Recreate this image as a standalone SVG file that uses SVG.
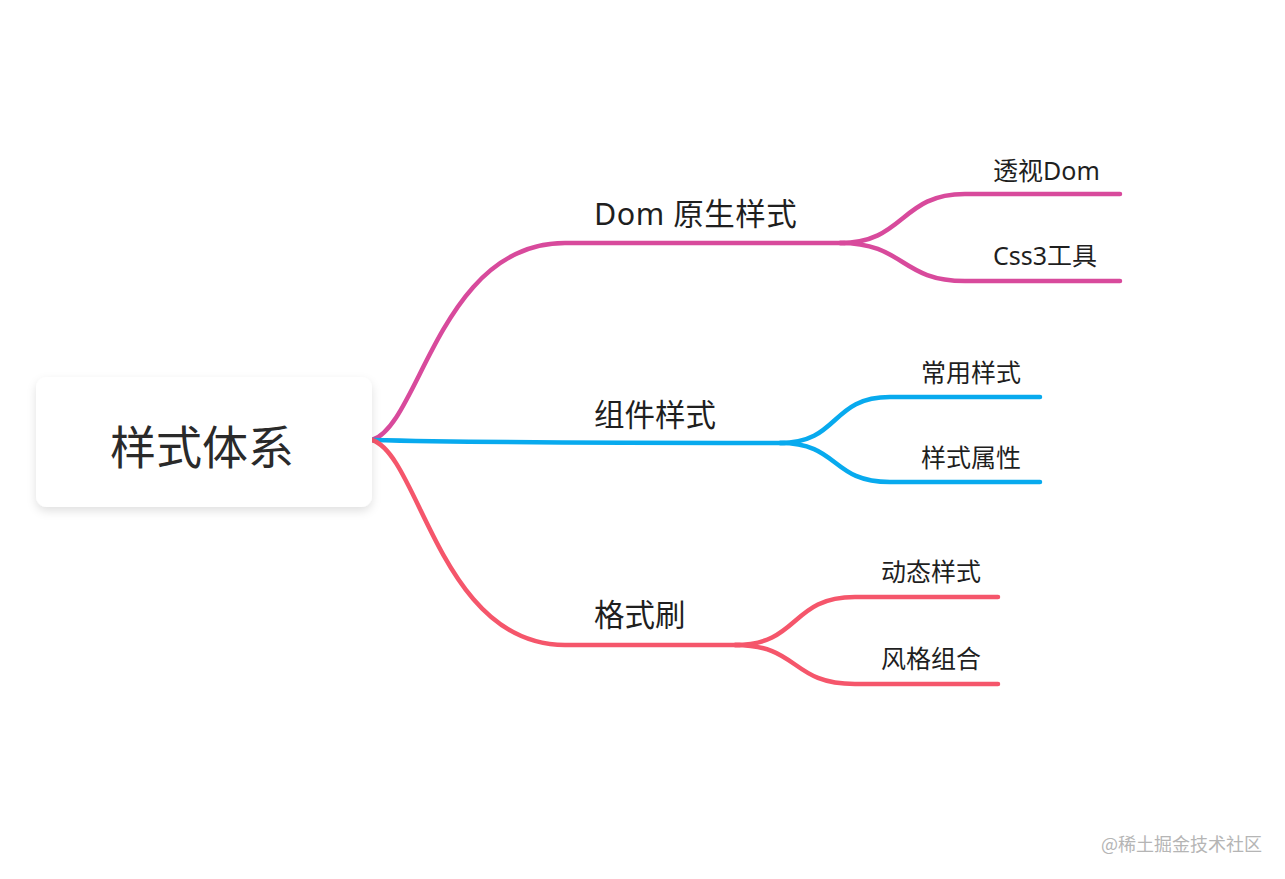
<svg xmlns="http://www.w3.org/2000/svg" width="1285" height="879" viewBox="0 0 1285 879">
<defs>
<filter id="shadow" x="-20%" y="-30%" width="140%" height="170%">
<feDropShadow dx="0" dy="4" stdDeviation="5" flood-color="#000" flood-opacity="0.12"/>
</filter>
<style>
.t{font-family:"Noto Sans","Noto Sans CJK SC",sans-serif;fill:#1f1f1f}
.root{font-size:46px;fill:#2a2a2a}
.main{font-size:30.5px}
.sub{font-size:25px}
.c{fill:none;stroke-width:4.5;stroke-linecap:round}
.pink{stroke:#d84a9c}
.blue{stroke:#08aaee}
.red{stroke:#f5566b}
.wm{font-family:"Noto Sans CJK SC",sans-serif;font-size:18px;fill:#b5b5b5}
</style>
</defs>
<rect width="1285" height="879" fill="#ffffff"/>
<g id="connectors">
<path class="c pink" d="M372,440 C420,425 440,243 565,243 L845,243"/>
<path class="c pink" d="M840,243 C905,243 900,194 965,194 L1120,194"/>
<path class="c pink" d="M840,243 C905,243 900,281 965,281 L1120,281"/>
<path class="c blue" d="M372,440 C450,442 600,443 785,443"/>
<path class="c blue" d="M780,443 C840,443 830,397 890,397 L1040,397"/>
<path class="c blue" d="M780,443 C840,443 830,482 890,482 L1040,482"/>
<path class="c red" d="M372,440 C420,455 440,645 565,645 L740,645"/>
<path class="c red" d="M735,645 C800,645 790,597 855,597 L998,597"/>
<path class="c red" d="M735,645 C800,645 790,684 855,684 L998,684"/>
</g>
<g id="root">
<rect x="36" y="377" width="336" height="130" rx="11" fill="#ffffff" filter="url(#shadow)"/>
<text class="t root" x="202" y="464" text-anchor="middle">样式体系</text>
</g>
<g id="n-dom"><text class="t main" x="594" y="225" letter-spacing="0.5">Dom 原生样式</text></g>
<g id="n-dom-1"><text class="t sub" x="993" y="180">透视Dom</text></g>
<g id="n-dom-2"><text class="t sub" x="993" y="265">Css3工具</text></g>
<g id="n-comp"><text class="t main" x="594" y="426">组件样式</text></g>
<g id="n-comp-1"><text class="t sub" x="921" y="382">常用样式</text></g>
<g id="n-comp-2"><text class="t sub" x="921" y="467">样式属性</text></g>
<g id="n-brush"><text class="t main" x="594" y="626">格式刷</text></g>
<g id="n-brush-1"><text class="t sub" x="881" y="581">动态样式</text></g>
<g id="n-brush-2"><text class="t sub" x="881" y="668">风格组合</text></g>
<text class="wm" x="1262" y="851" text-anchor="end">@稀土掘金技术社区</text>
</svg>
